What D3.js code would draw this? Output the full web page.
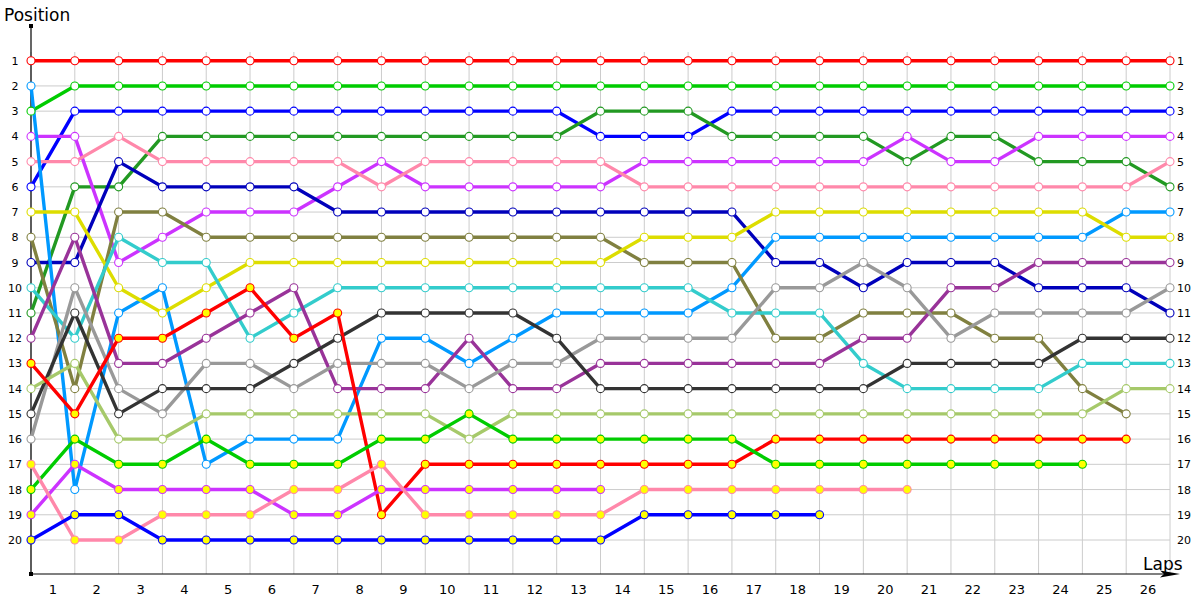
<!DOCTYPE html>
<html>
<head>
<meta charset="utf-8">
<script src="https://cdn.jsdelivr.net/npm/d3@7"></script>
<style>
  html, body { margin: 0; padding: 0; background: #fff; }
  svg { display: block; font-family: "DejaVu Sans", Verdana, sans-serif; }
</style>
</head>
<body>
<svg id="chart" width="1200" height="600"></svg>
<script>
// ---- data ----
const lapLabels = ["1","2","3","4","5","6","7","8","9","10","11","12","13","14","15","16","17","18","19","20","21","22","23","24","25","26"];
const positionLabels = [1,2,3,4,5,6,7,8,9,10,11,12,13,14,15,16,17,18,19,20];

// positions from lap 0 (start) onward
const posRed      = [1,1,1,1,1,1,1,1,1,1,1,1,1,1,1,1,1,1,1,1,1,1,1,1,1,1,1];
const posGreen    = [3,2,2,2,2,2,2,2,2,2,2,2,2,2,2,2,2,2,2,2,2,2,2,2,2,2,2];
const posBlue     = [6,3,3,3,3,3,3,3,3,3,3,3,3,4,4,4,3,3,3,3,3,3,3,3,3,3,3];
const posDkGreen  = [11,6,6,4,4,4,4,4,4,4,4,4,4,3,3,3,4,4,4,4,5,4,4,5,5,5,6];
const posMagenta  = [4,4,9,8,7,7,7,6,5,6,6,6,6,6,5,5,5,5,5,5,4,5,5,4,4,4,4];
const posPink     = [5,5,4,5,5,5,5,5,6,5,5,5,5,5,6,6,6,6,6,6,6,6,6,6,6,6,5];
const posNavy     = [9,9,5,6,6,6,6,7,7,7,7,7,7,7,7,7,7,9,9,10,9,9,9,10,10,10,11];
const posSky      = [2,18,11,10,17,16,16,16,12,12,13,12,11,11,11,11,10,8,8,8,8,8,8,8,8,7,7];
const posOlive    = [8,14,7,7,8,8,8,8,8,8,8,8,8,8,9,9,9,12,12,11,11,11,12,12,14,15];
const posYellow   = [7,7,10,11,10,9,9,9,9,9,9,9,9,9,8,8,8,7,7,7,7,7,7,7,7,8,8];
const posCyan     = [10,12,8,9,9,12,11,10,10,10,10,10,10,10,10,10,11,11,11,13,14,14,14,14,13,13,13];
const posPurple   = [12,8,13,13,12,11,10,14,14,14,12,14,14,13,13,13,13,13,13,12,12,10,10,9,9,9,9];
const posGray     = [16,10,14,15,13,13,14,13,13,13,14,13,13,12,12,12,12,10,10,9,10,12,11,11,11,11,10];
const posBlack    = [15,11,15,14,14,14,13,12,11,11,11,11,12,14,14,14,14,14,14,14,13,13,13,13,12,12,12];
const posLtGreen  = [14,13,16,16,15,15,15,15,15,15,16,15,15,15,15,15,15,15,15,15,15,15,15,15,15,14,14];
const posRed2     = [13,15,12,12,11,10,12,11,19,17,17,17,17,17,17,17,17,16,16,16,16,16,16,16,16,16];
const posGreen2   = [18,16,17,17,16,17,17,17,16,16,15,16,16,16,16,16,16,17,17,17,17,17,17,17,17];
const posMagenta2 = [19,17,18,18,18,18,19,19,18,18,18,18,18,18];
const posPink2    = [17,20,20,19,19,19,18,18,17,19,19,19,19,19,18,18,18,18,18,18,18];
const posBlue2    = [20,19,19,20,20,20,20,20,20,20,20,20,20,20,19,19,19,19,19];

const seriesColors = ["#ff0000","#00cc00","#0000ff","#229922","#cc33ff","#ff88aa","#0000bb","#0099ff","#808040","#dddd00",
                      "#33cccc","#993399","#999999","#333333","#a6c96a","#ff0000","#00cc00","#cc33ff","#ff88aa","#0000ff"];
const seriesLapped = [false,false,false,false,false,false,false,false,false,false,
                      false,false,false,false,false,true,true,true,true,true];
const seriesData = [posRed,posGreen,posBlue,posDkGreen,posMagenta,posPink,posNavy,posSky,posOlive,posYellow,
                    posCyan,posPurple,posGray,posBlack,posLtGreen,posRed2,posGreen2,posMagenta2,posPink2,posBlue2];

// ---- layout ----
const svg = d3.select("#chart");
const x0 = 31, x1 = 1170, yTop = 60.7, yBot = 540, axisY = 574;

const x = d3.scaleLinear().domain([0, 26]).range([x0, x1]);
const y = d3.scaleLinear().domain([1, 20]).range([yTop, yBot]);
const xBand = d3.scaleBand().domain(lapLabels).range([x0, x1]).padding(0);

// grid
const grid = svg.append("g");
grid.selectAll("line.h").data(positionLabels).enter().append("line")
  .attr("x1", x0).attr("x2", x1)
  .attr("y1", d => y(d)).attr("y2", d => y(d))
  .attr("stroke", "#cccccc").attr("stroke-width", 1);
grid.selectAll("line.v").data(d3.range(0, 27)).enter().append("line")
  .attr("x1", d => x(d)).attr("x2", d => x(d))
  .attr("y1", 52).attr("y2", axisY)
  .attr("stroke", "#cccccc").attr("stroke-width", 1);

// axes lines
svg.append("line").attr("x1", x0).attr("x2", x0).attr("y1", 25).attr("y2", axisY)
  .attr("stroke", "#000").attr("stroke-width", 1.2);
svg.append("rect").attr("x", x0 - 2).attr("y", 24).attr("width", 4).attr("height", 4).attr("fill", "#000");
svg.append("rect").attr("x", x0 - 2).attr("y", axisY - 2).attr("width", 4).attr("height", 4).attr("fill", "#000");
svg.append("line").attr("x1", x0).attr("x2", 1168).attr("y1", axisY).attr("y2", axisY)
  .attr("stroke", "#000").attr("stroke-width", 1.2);
svg.append("path").attr("d", `M1160,${axisY-3.5} L1180,${axisY} L1160,${axisY+3.5} L1164,${axisY} Z`).attr("fill", "#000");

// left position axis
const yAxisL = d3.axisLeft(y).tickValues(positionLabels).tickSize(0).tickPadding(0);
const gL = svg.append("g").attr("transform", `translate(15,0)`).call(yAxisL);
gL.select(".domain").remove();
gL.selectAll("text").attr("text-anchor", "middle").attr("font-size", 11).attr("fill", "#000")
  .style("font-family", "'DejaVu Sans', Verdana, sans-serif");

// right position axis
const yAxisR = d3.axisRight(y).tickValues(positionLabels).tickSize(0).tickPadding(0);
const gR = svg.append("g").attr("transform", `translate(1177,0)`).call(yAxisR);
gR.select(".domain").remove();
gR.selectAll("text").attr("font-size", 11).attr("fill", "#000")
  .style("font-family", "'DejaVu Sans', Verdana, sans-serif");

// bottom lap axis
const xAxis = d3.axisBottom(xBand).tickSize(0).tickPadding(0);
const gB = svg.append("g").attr("transform", `translate(0,${axisY + 11})`).call(xAxis);
gB.select(".domain").remove();
gB.selectAll("text").attr("font-size", 13).attr("fill", "#000")
  .style("font-family", "'DejaVu Sans', Verdana, sans-serif");

// titles
svg.append("text").attr("x", 4).attr("y", 21).attr("font-size", 17).attr("fill", "#000").text("Position");
svg.append("text").attr("x", 1143).attr("y", 570).attr("font-size", 17).attr("fill", "#000").text("Laps");

// lines
const line = d3.line().x((d, i) => x(i)).y(d => y(d));
const gLines = svg.append("g");
seriesData.forEach((arr, si) => {
  gLines.append("path").datum(arr).attr("d", line)
    .attr("fill", "none").attr("stroke", seriesColors[si]).attr("stroke-width", 3.4)
    .attr("stroke-linejoin", "round");
});
// markers
const gMarks = svg.append("g");
seriesData.forEach((arr, si) => {
  gMarks.selectAll(null).data(arr).enter().append("circle")
    .attr("cx", (d, i) => x(i)).attr("cy", d => y(d)).attr("r", 4)
    .attr("fill", seriesLapped[si] ? "#ffff00" : "#ffffff")
    .attr("stroke", seriesColors[si]).attr("stroke-width", 1.1);
});
</script>
</body>
</html>
